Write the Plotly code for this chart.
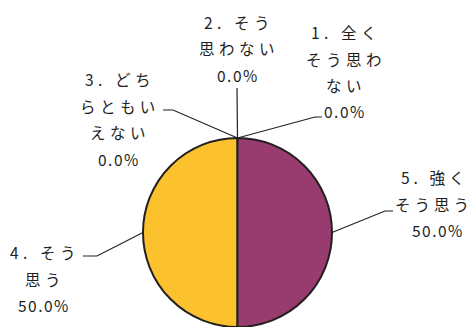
import numpy as np
import plotly.graph_objects as go

# ---- data ----
categories = ["1. 全くそう思わない", "2. そう思わない", "3. どちらともいえない", "4. そう思う", "5. 強くそう思う"]
label_lines = [
    ["1. 全く", "そう思わ", "ない"],
    ["2. そう", "思わない"],
    ["3. どち", "らともい", "えない"],
    ["4. そう", "思う"],
    ["5. 強く", "そう思う"],
]
percent = [0.0, 0.0, 0.0, 50.0, 50.0]
colors = ["#4F81BD", "#C0504D", "#9BBB59", "#FCC22D", "#983B6E"]

# ---- layout constants (window pixels; page body has an 8px margin) ----
OFF = 8
WW, WH = 476, 327
W, H = WW - OFF, WH - OFF
cx, r = 237.5, 94.5
cy = WH - r
FONT = "Noto Sans CJK JP"
TXT = "#1e1e1e"

def px2paper(x, y):
    return (x - OFF) / W, 1 - (y - OFF) / H

fig = go.Figure()
fig.add_trace(go.Pie(
    labels=categories, values=percent, sort=False,
    direction="counterclockwise", rotation=0,
    marker=dict(colors=colors, line=dict(color="#231F20", width=2)),
    textinfo="none", hoverinfo="label+percent", showlegend=False,
    domain=dict(x=[(cx - r - OFF) / W, (cx + r - OFF) / W], y=[0, 2 * r / H]),
))

# label placement: (block centre x, first line y, elbow point, end of horizontal leg, letter spacing)
label_pos = [
    (344, 32, (315, 117), (322, 117), 4.5),
    (237, 22, (237, 88), (237, 88), 4.5),
    (118, 79, (173, 110), (163, 110), 4.5),
    (43, 252, (97, 256), (83, 256), 4.5),
    (434, 177, (385, 211), (393, 211), 4.0),
]
LS = 26.5

vals = np.array(percent)
total = vals.sum()
cum = np.cumsum(vals) - vals / 2
shapes, annots = [], []
for i in range(len(categories)):
    theta = 2 * np.pi * cum[i] / total
    ax = cx - r * np.sin(theta)
    ay = cy - r * np.cos(theta)
    bx, by = label_pos[i][2]
    ex, ey = label_pos[i][3]
    p0 = px2paper(ax, ay); p1 = px2paper(bx, by); p2 = px2paper(ex, ey)
    shapes.append(dict(type="path", xref="paper", yref="paper",
                       path=f"M {p0[0]},{p0[1]} L {p1[0]},{p1[1]} L {p2[0]},{p2[1]}",
                       line=dict(color="#231F20", width=1.2)))
    lines = label_lines[i] + [f"{percent[i]:.1f}%"]
    x0, y0 = label_pos[i][0], label_pos[i][1]
    for k, t in enumerate(lines):
        last = k == len(lines) - 1
        sp = 1.5 if last else label_pos[i][4]
        xx, yy = px2paper(x0 + (sp / 2 if not (i == 4) else 0) + (4 if (i == 4 and last) else 0), y0 + k * LS)
        annots.append(dict(xref="paper", yref="paper", x=xx, y=yy,
                           xanchor="center", yanchor="middle", showarrow=False,
                           text=f'<span style="letter-spacing:{sp}px">{t}</span>',
                           font=dict(family=FONT, size=15.5, color=TXT)))

fig.update_layout(width=W, height=H, margin=dict(l=0, r=0, t=0, b=0),
                  paper_bgcolor="white", plot_bgcolor="white",
                  shapes=shapes, annotations=annots)
fig.write_html("out.html")
